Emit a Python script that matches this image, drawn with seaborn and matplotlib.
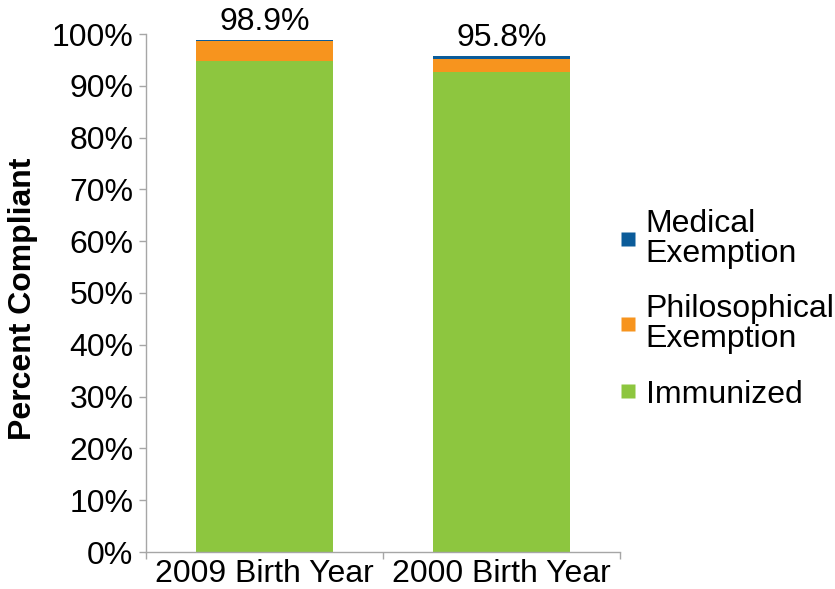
import matplotlib
matplotlib.use("Agg")
import matplotlib.pyplot as plt
import seaborn as sns
import pandas as pd
from matplotlib.lines import Line2D
from matplotlib.ticker import FixedLocator

categories = ["2009 Birth Year", "2000 Birth Year"]
immunized = [94.7, 92.7]
philosophical = [3.9, 2.5]
medical = [0.3, 0.6]
totals_labels = ["98.9%", "95.8%"]
series_names = ["Medical\nExemption", "Philosophical\nExemption", "Immunized"]
yticks = [0, 10, 20, 30, 40, 50, 60, 70, 80, 90, 100]

colors = {"Medical": "#0B5C9A", "Philosophical": "#F7941E", "Immunized": "#8DC63F"}

df = pd.DataFrame({
    "cat": categories,
    "imm": immunized,
    "phil": philosophical,
    "med": medical,
})
df["top_phil"] = df["imm"] + df["phil"]
df["top_med"] = df["top_phil"] + df["med"]

sns.set_theme(style="white")
plt.rcParams["font.family"] = ["Liberation Sans", "DejaVu Sans"]
plt.rcParams["text.color"] = "black"
plt.rcParams["axes.labelcolor"] = "black"
plt.rcParams["xtick.color"] = "black"
plt.rcParams["ytick.color"] = "black"

FS = 23

fig = plt.figure(figsize=(8.35, 5.89), dpi=100)
ax = fig.add_axes([146/835, 1-552/589, 474/835, 518/589])

W = 0.575
sns.barplot(data=df, x="cat", y="top_med", color=colors["Medical"], width=W,
            saturation=1, ax=ax, edgecolor="none", linewidth=0)
sns.barplot(data=df, x="cat", y="top_phil", color=colors["Philosophical"], width=W,
            saturation=1, ax=ax, edgecolor="none", linewidth=0)
sns.barplot(data=df, x="cat", y="imm", color=colors["Immunized"], width=W,
            saturation=1, ax=ax, edgecolor="none", linewidth=0)

for i, (tot, lab) in enumerate(zip(df["top_med"], totals_labels)):
    ax.text(i, tot + 0.5, lab, ha="center", va="bottom", fontsize=FS, color="black")

ax.set_xlim(-0.5, 1.5)
ax.set_ylim(0, 100)
ax.set_yticks(yticks)
ax.set_yticklabels([f"{v}%" for v in yticks], fontsize=FS)
ax.set_xticks(range(len(categories)))
ax.set_xticklabels(categories, fontsize=FS)
ax.tick_params(axis="x", which="major", length=0, pad=5, labelcolor="black")
ax.xaxis.set_minor_locator(FixedLocator([-0.5, 0.5, 1.5]))
ax.tick_params(axis="x", which="minor", length=5, width=1, color="#A6A6A6", bottom=True)
ax.tick_params(axis="y", which="major", length=5, width=1, color="#A6A6A6",
               left=True, pad=4, labelcolor="black")

ax.set_xlabel("")
ax.set_ylabel("Percent Compliant", fontsize=FS, fontweight="bold", color="black")
ax.yaxis.set_label_coords(-0.228, 0.488)

for s in ["top", "right"]:
    ax.spines[s].set_visible(False)
for s in ["left", "bottom"]:
    ax.spines[s].set_color("#A6A6A6")
    ax.spines[s].set_linewidth(1)

handles = [
    Line2D([], [], marker="s", linestyle="none", markersize=10,
           markerfacecolor=colors["Medical"], markeredgecolor="none"),
    Line2D([], [], marker="s", linestyle="none", markersize=10,
           markerfacecolor=colors["Philosophical"], markeredgecolor="none"),
    Line2D([], [], marker="s", linestyle="none", markersize=10,
           markerfacecolor=colors["Immunized"], markeredgecolor="none"),
]
leg = ax.legend(handles, series_names, loc="center left", bbox_to_anchor=(1.0, 0.469),
                frameon=False, fontsize=FS, handlelength=0.5, handletextpad=0.3,
                labelspacing=0.8, borderaxespad=0, borderpad=0)
for t in leg.get_texts():
    t.set_linespacing(1.0)
    t.set_color("black")

fig.savefig("out.png", dpi=100)
